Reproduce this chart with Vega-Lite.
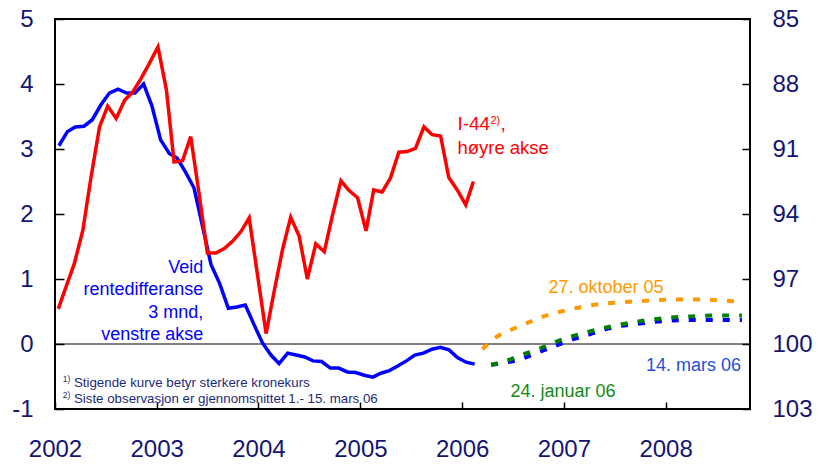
{
  "$schema": "https://vega.github.io/schema/vega-lite/v6.json",
  "width": 695,
  "height": 390,
  "autosize": {"type": "none"},
  "padding": {"left": 55, "top": 19, "right": 69, "bottom": 57},
  "background": "white",
  "config": {
    "view": {"stroke": "#000000", "strokeWidth": 2},
    "font": "Liberation Sans",
    "axis": {"labelFont": "Liberation Sans", "labelFontSize": 24, "labelColor": "#141473", "tickColor": "#000000", "tickWidth": 1.5, "domain": false, "grid": false, "labelFlush": false, "labelOverlap": false, "labelBound": false},
    "text": {"font": "Liberation Sans"}
  },
  "datasets": {
    "rentedifferanse": [
      {"date": "2002-01-15", "v": 3.05}, {"date": "2002-02-15", "v": 3.27}, {"date": "2002-03-15", "v": 3.34},
      {"date": "2002-04-15", "v": 3.35}, {"date": "2002-05-15", "v": 3.45}, {"date": "2002-06-15", "v": 3.68},
      {"date": "2002-07-15", "v": 3.86}, {"date": "2002-08-15", "v": 3.92}, {"date": "2002-09-15", "v": 3.86},
      {"date": "2002-10-15", "v": 3.86}, {"date": "2002-11-15", "v": 4.00}, {"date": "2002-12-15", "v": 3.66},
      {"date": "2003-01-15", "v": 3.14}, {"date": "2003-02-15", "v": 2.93}, {"date": "2003-03-15", "v": 2.86},
      {"date": "2003-04-15", "v": 2.64}, {"date": "2003-05-15", "v": 2.40}, {"date": "2003-06-15", "v": 1.80},
      {"date": "2003-07-15", "v": 1.22}, {"date": "2003-08-15", "v": 0.93}, {"date": "2003-09-15", "v": 0.55},
      {"date": "2003-10-15", "v": 0.57}, {"date": "2003-11-15", "v": 0.60}, {"date": "2003-12-15", "v": 0.31},
      {"date": "2004-01-15", "v": 0.02}, {"date": "2004-02-15", "v": -0.17}, {"date": "2004-03-15", "v": -0.30},
      {"date": "2004-04-15", "v": -0.14}, {"date": "2004-05-15", "v": -0.17}, {"date": "2004-06-15", "v": -0.20},
      {"date": "2004-07-15", "v": -0.26}, {"date": "2004-08-15", "v": -0.27}, {"date": "2004-09-15", "v": -0.37},
      {"date": "2004-10-15", "v": -0.37}, {"date": "2004-11-15", "v": -0.43}, {"date": "2004-12-15", "v": -0.44},
      {"date": "2005-01-15", "v": -0.48}, {"date": "2005-02-15", "v": -0.51}, {"date": "2005-03-15", "v": -0.45},
      {"date": "2005-04-15", "v": -0.41}, {"date": "2005-05-15", "v": -0.34}, {"date": "2005-06-15", "v": -0.26},
      {"date": "2005-07-15", "v": -0.17}, {"date": "2005-08-15", "v": -0.14}, {"date": "2005-09-15", "v": -0.08},
      {"date": "2005-10-15", "v": -0.05}, {"date": "2005-11-15", "v": -0.09}, {"date": "2005-12-15", "v": -0.21},
      {"date": "2006-01-15", "v": -0.28}, {"date": "2006-02-15", "v": -0.31}
    ],
    "prognoser": [
      {"prognose": "14. mars 06", "date": "2006-04-15", "v": -0.32},
      {"prognose": "14. mars 06", "date": "2006-06-01", "v": -0.29},
      {"prognose": "14. mars 06", "date": "2006-08-01", "v": -0.23},
      {"prognose": "14. mars 06", "date": "2006-10-01", "v": -0.13},
      {"prognose": "14. mars 06", "date": "2006-12-01", "v": -0.03},
      {"prognose": "14. mars 06", "date": "2007-02-01", "v": 0.07},
      {"prognose": "14. mars 06", "date": "2007-04-01", "v": 0.145},
      {"prognose": "14. mars 06", "date": "2007-07-01", "v": 0.26},
      {"prognose": "14. mars 06", "date": "2007-10-01", "v": 0.315},
      {"prognose": "14. mars 06", "date": "2008-01-01", "v": 0.355},
      {"prognose": "14. mars 06", "date": "2008-04-01", "v": 0.37},
      {"prognose": "14. mars 06", "date": "2008-07-01", "v": 0.37},
      {"prognose": "14. mars 06", "date": "2008-10-01", "v": 0.37},
      {"prognose": "24. januar 06", "date": "2006-04-15", "v": -0.32},
      {"prognose": "24. januar 06", "date": "2006-06-01", "v": -0.27},
      {"prognose": "24. januar 06", "date": "2006-08-01", "v": -0.17},
      {"prognose": "24. januar 06", "date": "2006-10-01", "v": -0.08},
      {"prognose": "24. januar 06", "date": "2006-12-01", "v": 0.03},
      {"prognose": "24. januar 06", "date": "2007-02-01", "v": 0.12},
      {"prognose": "24. januar 06", "date": "2007-04-01", "v": 0.19},
      {"prognose": "24. januar 06", "date": "2007-07-01", "v": 0.28},
      {"prognose": "24. januar 06", "date": "2007-10-01", "v": 0.35},
      {"prognose": "24. januar 06", "date": "2008-01-01", "v": 0.40},
      {"prognose": "24. januar 06", "date": "2008-04-01", "v": 0.425},
      {"prognose": "24. januar 06", "date": "2008-07-01", "v": 0.44},
      {"prognose": "24. januar 06", "date": "2008-10-01", "v": 0.44},
      {"prognose": "27. oktober 05", "date": "2006-03-15", "v": -0.08},
      {"prognose": "27. oktober 05", "date": "2006-05-01", "v": 0.10},
      {"prognose": "27. oktober 05", "date": "2006-07-01", "v": 0.23},
      {"prognose": "27. oktober 05", "date": "2006-09-01", "v": 0.34},
      {"prognose": "27. oktober 05", "date": "2006-11-01", "v": 0.44},
      {"prognose": "27. oktober 05", "date": "2007-01-01", "v": 0.51},
      {"prognose": "27. oktober 05", "date": "2007-04-01", "v": 0.59},
      {"prognose": "27. oktober 05", "date": "2007-07-01", "v": 0.635},
      {"prognose": "27. oktober 05", "date": "2007-10-01", "v": 0.66},
      {"prognose": "27. oktober 05", "date": "2008-01-01", "v": 0.68},
      {"prognose": "27. oktober 05", "date": "2008-04-01", "v": 0.685},
      {"prognose": "27. oktober 05", "date": "2008-07-01", "v": 0.675},
      {"prognose": "27. oktober 05", "date": "2008-10-01", "v": 0.65}
    ],
    "i44": [
      {"month": "2002-01-01", "I44": 98.38}, {"month": "2002-02-01", "I44": 97.27}, {"month": "2002-03-01", "I44": 96.28},
      {"month": "2002-04-01", "I44": 94.75}, {"month": "2002-05-01", "I44": 92.29}, {"month": "2002-06-01", "I44": 89.98},
      {"month": "2002-07-01", "I44": 89.02}, {"month": "2002-08-01", "I44": 89.59}, {"month": "2002-09-01", "I44": 88.75},
      {"month": "2002-10-01", "I44": 88.36}, {"month": "2002-11-01", "I44": 87.73}, {"month": "2002-12-01", "I44": 87.04},
      {"month": "2003-01-01", "I44": 86.29}, {"month": "2003-02-01", "I44": 88.27}, {"month": "2003-03-01", "I44": 91.60},
      {"month": "2003-04-01", "I44": 91.54}, {"month": "2003-05-01", "I44": 90.43}, {"month": "2003-06-01", "I44": 93.10},
      {"month": "2003-07-01", "I44": 95.80}, {"month": "2003-08-01", "I44": 95.80}, {"month": "2003-09-01", "I44": 95.59},
      {"month": "2003-10-01", "I44": 95.26}, {"month": "2003-11-01", "I44": 94.81}, {"month": "2003-12-01", "I44": 94.18},
      {"month": "2004-01-01", "I44": 96.85}, {"month": "2004-02-01", "I44": 99.52}, {"month": "2004-03-01", "I44": 97.60},
      {"month": "2004-04-01", "I44": 95.65}, {"month": "2004-05-01", "I44": 94.15}, {"month": "2004-06-01", "I44": 95.02},
      {"month": "2004-07-01", "I44": 97.00}, {"month": "2004-08-01", "I44": 95.38}, {"month": "2004-09-01", "I44": 95.74},
      {"month": "2004-10-01", "I44": 94.06}, {"month": "2004-11-01", "I44": 92.47}, {"month": "2004-12-01", "I44": 92.92},
      {"month": "2005-01-01", "I44": 93.25}, {"month": "2005-02-01", "I44": 94.78}, {"month": "2005-03-01", "I44": 92.89},
      {"month": "2005-04-01", "I44": 92.98}, {"month": "2005-05-01", "I44": 92.35}, {"month": "2005-06-01", "I44": 91.15},
      {"month": "2005-07-01", "I44": 91.12}, {"month": "2005-08-01", "I44": 90.97}, {"month": "2005-09-01", "I44": 89.98},
      {"month": "2005-10-01", "I44": 90.34}, {"month": "2005-11-01", "I44": 90.40}, {"month": "2005-12-01", "I44": 92.32},
      {"month": "2006-01-01", "I44": 92.89}, {"month": "2006-02-01", "I44": 93.58}, {"month": "2006-03-01", "I44": 92.50}
    ]
  },
  "resolve": {"scale": {"x": "independent", "y": "independent"}, "axis": {"x": "independent", "y": "independent"}},
  "layer": [
    {
      "layer": [
        {
          "data": {"values": [{}]},
          "mark": {"type": "rule", "color": "#000000", "strokeWidth": 1.2},
          "encoding": {"y": {"datum": 0, "type": "quantitative"}}
        },
        {
          "data": {"name": "rentedifferanse"},
          "mark": {"type": "line", "color": "#0000ff", "strokeWidth": 3.5},
          "encoding": {
            "x": {"field": "date", "type": "temporal",
              "scale": {"type": "utc", "domain": [{"year": 2002, "month": 1, "date": 1, "utc": true}, {"year": 2008, "month": 10, "date": 30, "utc": true}]},
              "axis": {"orient": "bottom", "title": null, "format": "%Y", "tickSize": -7, "labelPadding": 35,
                "values": [{"year": 2002, "month": 1, "date": 1, "utc": true}, {"year": 2003, "month": 1, "date": 1, "utc": true}, {"year": 2004, "month": 1, "date": 1, "utc": true}, {"year": 2005, "month": 1, "date": 1, "utc": true}, {"year": 2006, "month": 1, "date": 1, "utc": true}, {"year": 2007, "month": 1, "date": 1, "utc": true}, {"year": 2008, "month": 1, "date": 1, "utc": true}]}},
            "y": {"field": "v", "type": "quantitative",
              "scale": {"domain": [-1, 5], "nice": false, "zero": false},
              "axis": {"orient": "left", "title": null, "values": [-1, 0, 1, 2, 3, 4, 5], "labelExpr": "'' + datum.value", "tickSize": -9, "labelPadding": 31}}
          }
        },
        {
          "data": {"name": "prognoser"},
          "mark": {"type": "line", "strokeWidth": 4, "strokeDash": [7, 10], "interpolate": "monotone"},
          "encoding": {
            "x": {"field": "date", "type": "temporal"},
            "y": {"field": "v", "type": "quantitative"},
            "color": {"field": "prognose", "type": "nominal", "legend": null,
              "scale": {"domain": ["14. mars 06", "24. januar 06", "27. oktober 05"], "range": ["#0000ff", "#008000", "#ff9900"]}}
          }
        },
        {
          "data": {"values": [{}]},
          "mark": {"type": "text", "text": ["Veid", "rentedifferanse", "3 mnd,", "venstre akse"], "align": "right", "baseline": "top", "fontSize": 18, "lineHeight": 22.5, "color": "#0000ff"},
          "encoding": {"x": {"datum": {"year": 2003, "month": 6, "date": 17, "utc": true}, "type": "temporal"}, "y": {"datum": 1.31, "type": "quantitative"}}
        },
        {
          "data": {"values": [{}]},
          "mark": {"type": "text", "text": "I-44", "align": "left", "baseline": "alphabetic", "fontSize": 19, "color": "#ff0000"},
          "encoding": {"x": {"datum": {"year": 2005, "month": 12, "date": 15, "utc": true}, "type": "temporal"}, "y": {"datum": 3.30, "type": "quantitative"}}
        },
        {
          "data": {"values": [{}]},
          "mark": {"type": "text", "text": "2)", "align": "left", "baseline": "alphabetic", "fontSize": 11, "dx": 33, "dy": -6, "color": "#ff0000"},
          "encoding": {"x": {"datum": {"year": 2005, "month": 12, "date": 15, "utc": true}, "type": "temporal"}, "y": {"datum": 3.30, "type": "quantitative"}}
        },
        {
          "data": {"values": [{}]},
          "mark": {"type": "text", "text": ",", "align": "left", "baseline": "alphabetic", "fontSize": 19, "dx": 43, "color": "#ff0000"},
          "encoding": {"x": {"datum": {"year": 2005, "month": 12, "date": 15, "utc": true}, "type": "temporal"}, "y": {"datum": 3.30, "type": "quantitative"}}
        },
        {
          "data": {"values": [{}]},
          "mark": {"type": "text", "text": "høyre akse", "align": "left", "baseline": "alphabetic", "fontSize": 18.5, "color": "#ff0000"},
          "encoding": {"x": {"datum": {"year": 2005, "month": 12, "date": 15, "utc": true}, "type": "temporal"}, "y": {"datum": 2.92, "type": "quantitative"}}
        },
        {
          "data": {"values": [{}]},
          "mark": {"type": "text", "text": "27. oktober 05", "align": "center", "baseline": "alphabetic", "fontSize": 18, "color": "#ff9900"},
          "encoding": {"x": {"datum": {"year": 2007, "month": 6, "date": 1, "utc": true}, "type": "temporal"}, "y": {"datum": 0.79, "type": "quantitative"}}
        },
        {
          "data": {"values": [{}]},
          "mark": {"type": "text", "text": "14. mars 06", "align": "right", "baseline": "alphabetic", "fontSize": 18, "color": "#2450d8"},
          "encoding": {"x": {"datum": {"year": 2008, "month": 9, "date": 28, "utc": true}, "type": "temporal"}, "y": {"datum": -0.41, "type": "quantitative"}}
        },
        {
          "data": {"values": [{}]},
          "mark": {"type": "text", "text": "24. januar 06", "align": "center", "baseline": "alphabetic", "fontSize": 18, "color": "#138a13"},
          "encoding": {"x": {"datum": {"year": 2006, "month": 12, "date": 29, "utc": true}, "type": "temporal"}, "y": {"datum": -0.81, "type": "quantitative"}}
        },
        {
          "data": {"values": [{}]},
          "mark": {"type": "text", "text": "1)", "align": "left", "baseline": "alphabetic", "fontSize": 8.5, "color": "#1e2a7a"},
          "encoding": {"x": {"datum": {"year": 2002, "month": 1, "date": 29, "utc": true}, "type": "temporal"}, "y": {"datum": -0.585, "type": "quantitative"}}
        },
        {
          "data": {"values": [{}]},
          "mark": {"type": "text", "text": "Stigende kurve betyr sterkere kronekurs", "align": "left", "baseline": "alphabetic", "fontSize": 13.3, "color": "#1e2a7a"},
          "encoding": {"x": {"datum": {"year": 2002, "month": 3, "date": 10, "utc": true}, "type": "temporal"}, "y": {"datum": -0.657, "type": "quantitative"}}
        },
        {
          "data": {"values": [{}]},
          "mark": {"type": "text", "text": "2)", "align": "left", "baseline": "alphabetic", "fontSize": 8.5, "color": "#1e2a7a"},
          "encoding": {"x": {"datum": {"year": 2002, "month": 1, "date": 29, "utc": true}, "type": "temporal"}, "y": {"datum": -0.83, "type": "quantitative"}}
        },
        {
          "data": {"values": [{}]},
          "mark": {"type": "text", "text": "Siste observasjon er gjennomsnittet 1.- 15. mars 06", "align": "left", "baseline": "alphabetic", "fontSize": 13.3, "color": "#1e2a7a"},
          "encoding": {"x": {"datum": {"year": 2002, "month": 3, "date": 10, "utc": true}, "type": "temporal"}, "y": {"datum": -0.90, "type": "quantitative"}}
        }
      ]
    },
    {
      "data": {"name": "i44"},
      "mark": {"type": "line", "color": "#ff0000", "strokeWidth": 3.5},
      "encoding": {
        "x": {"field": "month", "type": "temporal",
          "scale": {"type": "utc", "domain": [{"year": 2001, "month": 12, "date": 20, "utc": true}, {"year": 2008, "month": 12, "date": 8, "utc": true}]},
          "axis": null},
        "y": {"field": "I44", "type": "quantitative",
          "scale": {"domain": [85, 103], "reverse": true, "nice": false, "zero": false},
          "axis": {"orient": "right", "title": null, "values": [85, 88, 91, 94, 97, 100, 103], "tickSize": -8, "labelPadding": 30, "labelAlign": "left"}}
      }
    }
  ]
}
